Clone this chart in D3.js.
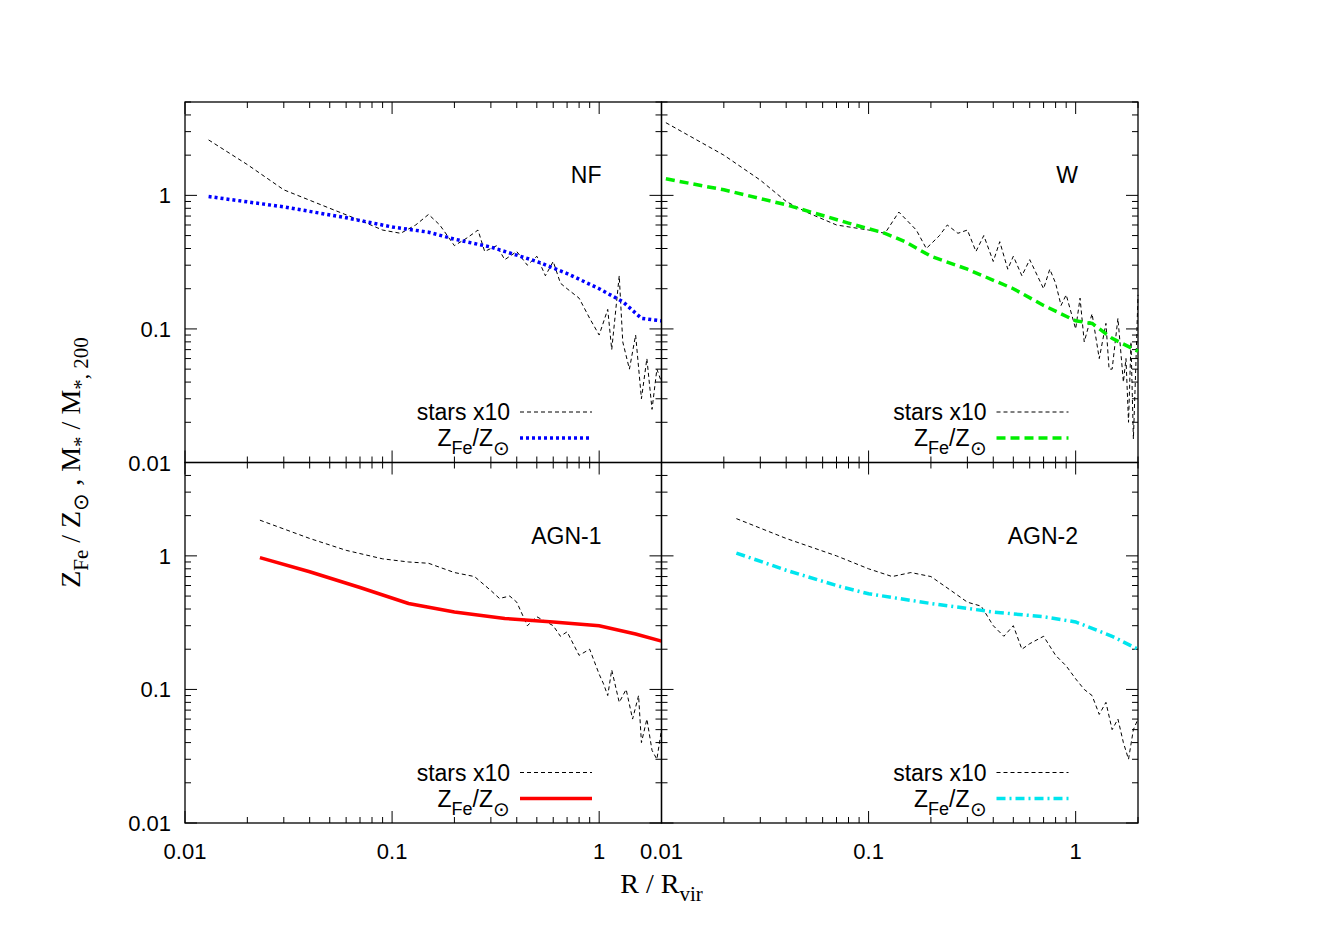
<!DOCTYPE html>
<html>
<head>
<meta charset="utf-8">
<script src="https://cdn.jsdelivr.net/npm/d3@7"></script>
<style>
  body { margin: 0; background: #fff; }
  text { font-family: "Liberation Sans", Arial, sans-serif; }
</style>
</head>
<body>
<svg id="chart" width="1323" height="926"></svg>
<script>
// panel names
var panelNames = ['NF', 'W', 'AGN-1', 'AGN-2'];

// stars x10 profiles, [R/Rvir, value]
var starsNF = [[0.013,2.6],[0.02,1.7],[0.03,1.1],[0.05,0.8],[0.07,0.65],[0.09,0.55],[0.11,0.52],[0.13,0.6],[0.15,0.72],[0.17,0.6],[0.2,0.42],[0.23,0.48],[0.26,0.55],[0.28,0.38],[0.32,0.42],[0.35,0.33],[0.4,0.38],[0.45,0.3],[0.5,0.35],[0.55,0.25],[0.6,0.32],[0.65,0.22],[0.7,0.2],[0.8,0.17],[0.9,0.12],[1.0,0.09],[1.1,0.14],[1.15,0.07],[1.25,0.25],[1.3,0.08],[1.4,0.05],[1.5,0.09],[1.6,0.03],[1.7,0.06],[1.8,0.025],[1.9,0.05],[2.0,0.04]];
var starsW = [[0.0105,3.5],[0.02,2.0],[0.03,1.3],[0.04,0.9],[0.05,0.75],[0.07,0.6],[0.1,0.55],[0.12,0.52],[0.14,0.75],[0.17,0.55],[0.19,0.4],[0.22,0.5],[0.24,0.6],[0.27,0.52],[0.3,0.55],[0.33,0.38],[0.36,0.5],[0.4,0.32],[0.43,0.45],[0.47,0.28],[0.5,0.35],[0.55,0.25],[0.6,0.33],[0.7,0.2],[0.75,0.28],[0.8,0.22],[0.85,0.15],[0.9,0.18],[1.0,0.1],[1.05,0.17],[1.1,0.08],[1.2,0.13],[1.3,0.06],[1.4,0.11],[1.45,0.05],[1.5,0.05],[1.6,0.12],[1.7,0.04],[1.75,0.06],[1.8,0.02],[1.85,0.08],[1.9,0.015],[1.95,0.05],[2.0,0.18]];
var starsAGN1 = [[0.023,1.85],[0.04,1.35],[0.06,1.1],[0.09,0.95],[0.12,0.9],[0.15,0.88],[0.2,0.75],[0.25,0.7],[0.3,0.55],[0.33,0.48],[0.37,0.5],[0.4,0.45],[0.45,0.3],[0.5,0.35],[0.6,0.3],[0.65,0.25],[0.7,0.27],[0.8,0.18],[0.9,0.2],[1.0,0.13],[1.05,0.11],[1.1,0.09],[1.15,0.14],[1.25,0.08],[1.35,0.1],[1.45,0.06],[1.55,0.09],[1.6,0.04],[1.7,0.06],[1.8,0.035],[1.9,0.03],[2.0,0.05]];
var starsAGN2 = [[0.023,1.9],[0.04,1.35],[0.07,1.0],[0.1,0.8],[0.13,0.7],[0.16,0.75],[0.2,0.7],[0.25,0.55],[0.3,0.45],[0.35,0.42],[0.4,0.3],[0.45,0.25],[0.5,0.3],[0.55,0.2],[0.6,0.22],[0.7,0.25],[0.8,0.18],[0.9,0.15],[1.0,0.12],[1.1,0.1],[1.2,0.09],[1.3,0.065],[1.4,0.08],[1.5,0.05],[1.6,0.06],[1.7,0.04],[1.8,0.03],[1.9,0.05],[2.0,0.06]];

// iron metallicity profiles
var zfeNF = [[0.013,0.98],[0.03,0.82],[0.06,0.68],[0.1,0.58],[0.15,0.53],[0.2,0.47],[0.3,0.41],[0.5,0.32],[0.7,0.26],[1.0,0.2],[1.3,0.16],[1.6,0.12],[2.0,0.115]];
var zfeW = [[0.0105,1.33],[0.02,1.1],[0.04,0.85],[0.08,0.62],[0.12,0.52],[0.15,0.45],[0.2,0.35],[0.3,0.28],[0.5,0.2],[0.7,0.15],[1.0,0.115],[1.2,0.11],[1.5,0.085],[2.0,0.068]];
var zfeAGN1 = [[0.023,0.97],[0.04,0.76],[0.07,0.58],[0.12,0.44],[0.2,0.38],[0.35,0.34],[0.6,0.32],[1.0,0.3],[1.5,0.26],[2.0,0.23]];
var zfeAGN2 = [[0.023,1.05],[0.04,0.78],[0.07,0.6],[0.1,0.52],[0.2,0.44],[0.4,0.38],[0.7,0.35],[1.0,0.32],[1.5,0.25],[2.0,0.2]];

var xTicks = [0.01, 0.1, 1];
var yTicks = [0.01, 0.1, 1];

var svg = d3.select('#chart');
var left = 185, top0 = 102, pw = 476.5, ph = 360.5;
var xMax = 2, yMax = 5;

var panels = [
  {name: panelNames[0], stars: starsNF, zfe: zfeNF, color: '#0000ff', dash: '3,3', col: 0, row: 0},
  {name: panelNames[1], stars: starsW, zfe: zfeW, color: '#00ee00', dash: '9,5', col: 1, row: 0},
  {name: panelNames[2], stars: starsAGN1, zfe: zfeAGN1, color: '#ff0000', dash: null, col: 0, row: 1},
  {name: panelNames[3], stars: starsAGN2, zfe: zfeAGN2, color: '#00e5ee', dash: '9,4,2,4', col: 1, row: 1}
];

var minorX = [], minorY = [];
[0.01, 0.1, 1].forEach(function(d) {
  for (var k = 2; k <= 9; k++) {
    if (d * k <= xMax) minorX.push(d * k);
    if (d * k <= yMax) minorY.push(d * k);
  }
});

panels.forEach(function(p) {
  var x0 = left + p.col * pw, y0 = top0 + p.row * ph;
  var x = d3.scaleLog().domain([0.01, xMax]).range([x0, x0 + pw]);
  var y = d3.scaleLog().domain([0.01, yMax]).range([y0 + ph, y0]);
  var g = svg.append('g');

  g.append('rect').attr('x', x0).attr('y', y0).attr('width', pw).attr('height', ph)
    .attr('fill', 'none').attr('stroke', '#000').attr('stroke-width', 1.3);

  // ticks inside, all four sides
  function tickX(vals, len) {
    vals.forEach(function(v) {
      g.append('line').attr('x1', x(v)).attr('x2', x(v)).attr('y1', y0 + ph).attr('y2', y0 + ph - len).attr('stroke', '#000');
      g.append('line').attr('x1', x(v)).attr('x2', x(v)).attr('y1', y0).attr('y2', y0 + len).attr('stroke', '#000');
    });
  }
  function tickY(vals, len) {
    vals.forEach(function(v) {
      g.append('line').attr('y1', y(v)).attr('y2', y(v)).attr('x1', x0).attr('x2', x0 + len).attr('stroke', '#000');
      g.append('line').attr('y1', y(v)).attr('y2', y(v)).attr('x1', x0 + pw).attr('x2', x0 + pw - len).attr('stroke', '#000');
    });
  }
  tickX(xTicks, 12); tickX(minorX, 6);
  tickY(yTicks, 12); tickY(minorY, 6);

  if (p.col === 0) {
    yTicks.forEach(function(v) {
      g.append('text').attr('x', x0 - 14).attr('y', y(v) + 8).attr('text-anchor', 'end')
        .attr('font-size', 22).text(v);
    });
  }
  if (p.row === 1) {
    xTicks.forEach(function(v) {
      g.append('text').attr('x', x(v)).attr('y', y0 + ph + 36).attr('text-anchor', 'middle')
        .attr('font-size', 22).text(v);
    });
  }

  var line = d3.line().x(function(d) { return x(d[0]); }).y(function(d) { return y(d[1]); });

  g.append('path').datum(p.stars).attr('d', line).attr('fill', 'none')
    .attr('stroke', '#000').attr('stroke-width', 1).attr('stroke-dasharray', '4,3');
  g.append('path').datum(p.zfe).attr('d', line).attr('fill', 'none')
    .attr('stroke', p.color).attr('stroke-width', 3.5).attr('stroke-dasharray', p.dash);

  // panel label
  g.append('text').attr('x', x0 + pw - 60).attr('y', y0 + 81).attr('text-anchor', 'end')
    .attr('font-size', 23).text(p.name);

  // legend
  var lx = x0 + 325, ly1 = y0 + 318, ly2 = y0 + 344;
  g.append('text').attr('x', lx).attr('y', ly1).attr('text-anchor', 'end').attr('font-size', 23).text('stars x10');
  g.append('line').attr('x1', lx + 10).attr('x2', lx + 82).attr('y1', ly1 - 8).attr('y2', ly1 - 8)
    .attr('stroke', '#000').attr('stroke-dasharray', '4,3');
  var t = g.append('text').attr('x', lx).attr('y', ly2).attr('text-anchor', 'end').attr('font-size', 23);
  t.append('tspan').text('Z');
  t.append('tspan').attr('font-size', 18).attr('dy', 8).text('Fe');
  t.append('tspan').attr('dy', -8).text('/Z');
  t.append('tspan').attr('font-size', 20).attr('dy', 9).text('\u2299');
  g.append('line').attr('x1', lx + 10).attr('x2', lx + 82).attr('y1', ly2 - 8).attr('y2', ly2 - 8)
    .attr('stroke', p.color).attr('stroke-width', 3.5).attr('stroke-dasharray', p.dash);
});

// axis titles
var serif = '"Liberation Serif", "Times New Roman", serif';
var xt = svg.append('text').attr('x', left + pw).attr('y', 893).attr('text-anchor', 'middle')
  .attr('font-size', 28).style('font-family', serif);
xt.append('tspan').text('R / R');
xt.append('tspan').attr('font-size', 21).attr('dy', 8).text('vir');

var yt = svg.append('text').attr('transform', 'translate(80,' + (top0 + ph) + ') rotate(-90)')
  .attr('text-anchor', 'middle').attr('font-size', 28).style('font-family', serif);
yt.append('tspan').text('Z');
yt.append('tspan').attr('font-size', 21).attr('dy', 8).text('Fe');
yt.append('tspan').attr('dy', -8).text(' / Z');
yt.append('tspan').attr('font-size', 21).attr('dy', 8).text('\u2299');
yt.append('tspan').attr('dy', -8).text(' , M');
yt.append('tspan').attr('font-size', 21).attr('dy', 8).text('*');
yt.append('tspan').attr('dy', -8).text(' / M');
yt.append('tspan').attr('font-size', 21).attr('dy', 8).text('*, 200');
</script>
</body>
</html>
